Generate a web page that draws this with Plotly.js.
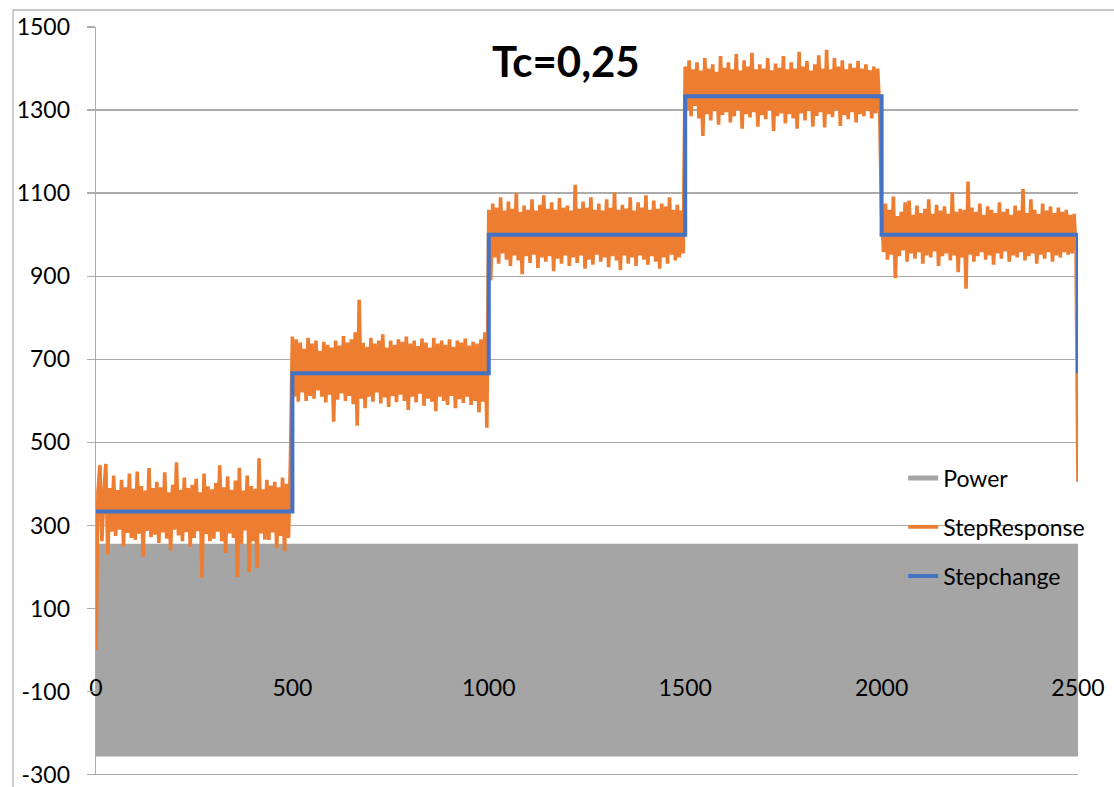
<!DOCTYPE html>
<html>
<head>
<meta charset="utf-8">
<script src="https://cdn.plot.ly/plotly-3.0.1.min.js"></script>
<style>
  html, body { margin: 0; padding: 0; background: #ffffff; }
  #chart { width: 1114px; height: 787px; }
</style>
</head>
<body>
<div id="chart"></div>
<script>
// ---------------- DATA ----------------
const chartTitle = 'Tc=0,25';
const seriesNames = ['Power', 'StepResponse', 'Stepchange'];
const sampleInterval = 5;           // time between stored samples
const xRange = [0, 2500];
const yRange = [-300, 1500];
const xTickVals = [0, 500, 1000, 1500, 2000, 2500];
const yTickVals = [-300, -100, 100, 300, 500, 700, 900, 1100, 1300, 1500];
const yTickLabels = ['-300', '-100', '100', '300', '500', '700', '900', '1100', '1300', '1500'];

// Stepchange (setpoint) : level held from each change time
const stepTimes  = [0, 500, 1000, 1500, 2000, 2500];
const stepLevels = [333.3, 666.7, 1000, 1333.3, 1000, 666.7];

// StepResponse, one sample every 5 time units (0 ... 2500)
const responseSeg1 = [
  0, 380, 445, 262, 375, 448, 230, 390, 285, 420,
  275, 385, 290, 410, 250, 392, 282, 425, 270, 388,
  265, 430, 280, 395, 225, 384, 287, 438, 272, 390,
  278, 405, 258, 392, 283, 428, 268, 380, 240, 398,
  290, 452, 276, 386, 262, 415, 284, 390, 248, 398,
  270, 412, 286, 380, 174, 425, 279, 394, 262, 387,
  268, 402, 285, 445, 262, 392, 234, 418, 281, 386,
  270, 408, 176, 439, 255, 384, 288, 420, 188, 395,
  262, 388, 198, 462, 281, 387, 266, 410, 265, 396,
  283, 405, 245, 392, 275, 415, 238, 400, 270, 455
];
const responseSeg2 = [
  755, 610, 748, 598, 740, 620, 725, 600, 752, 612,
  738, 605, 745, 625, 720, 610, 742, 596, 735, 615,
  728, 550, 745, 603, 733, 618, 756, 600, 740, 612,
  748, 592, 765, 540, 843, 605, 740, 582, 730, 610,
  752, 598, 738, 620, 745, 594, 760, 608, 728, 585,
  745, 612, 735, 597, 748, 615, 742, 600, 755, 578,
  738, 610, 745, 596, 732, 617, 750, 588, 740, 605,
  728, 598, 752, 575, 738, 610, 745, 600, 735, 590,
  748, 612, 730, 582, 745, 604, 740, 595, 750, 610,
  733, 590, 742, 600, 738, 572, 748, 598, 765, 535
];
const responseSeg3 = [
  1060, 890, 1075, 945, 1065, 930, 1090, 955, 1058, 940,
  1080, 925, 1062, 950, 1100, 938, 1055, 905, 1070, 948,
  1060, 932, 1085, 952, 1058, 920, 1072, 945, 1095, 935,
  1062, 948, 1078, 912, 1060, 942, 1088, 930, 1065, 950,
  1070, 925, 1058, 945, 1120, 932, 1062, 950, 1080, 918,
  1065, 940, 1090, 928, 1060, 952, 1075, 935, 1058, 945,
  1085, 922, 1065, 948, 1102, 938, 1060, 915, 1072, 950,
  1063, 930, 1090, 945, 1058, 925, 1078, 950, 1065, 940,
  1095, 928, 1060, 948, 1082, 935, 1062, 918, 1075, 945,
  1068, 930, 1090, 952, 1060, 938, 1072, 945, 1058, 955
];
const responseSeg4 = [
  1405, 1300, 1420, 1285, 1398, 1310, 1415, 1280, 1395, 1238,
  1425, 1290, 1400, 1275, 1410, 1298, 1392, 1265, 1430, 1288,
  1402, 1295, 1415, 1270, 1398, 1285, 1435, 1300, 1395, 1255,
  1420, 1290, 1405, 1282, 1438, 1295, 1398, 1260, 1410, 1288,
  1400, 1278, 1425, 1300, 1396, 1250, 1412, 1285, 1402, 1292,
  1430, 1268, 1398, 1290, 1415, 1280, 1400, 1255, 1440, 1292,
  1405, 1275, 1418, 1298, 1395, 1260, 1410, 1286, 1432, 1295,
  1400, 1258, 1445, 1290, 1398, 1283, 1425, 1300, 1405, 1262,
  1420, 1288, 1398, 1278, 1412, 1295, 1402, 1270, 1418, 1290,
  1400, 1285, 1410, 1298, 1396, 1280, 1405, 1292, 1400, 1300
];
const responseSeg5 = [
  1050, 958, 1075, 940, 1060, 952, 1092, 895, 1045, 948,
  1055, 962, 1078, 935, 1082, 955, 1048, 942, 1070, 958,
  1052, 930, 1062, 950, 1085, 945, 1050, 960, 1072, 925,
  1058, 948, 1068, 955, 1050, 938, 1102, 950, 1055, 910,
  1062, 945, 1060, 870, 1128, 952, 1065, 935, 1055, 948,
  1075, 958, 1048, 940, 1068, 950, 1060, 928, 1052, 955,
  1078, 942, 1055, 960, 1062, 935, 1048, 950, 1070, 945,
  1058, 958, 1110, 938, 1052, 948, 1085, 955, 1060, 930,
  1050, 952, 1075, 942, 1058, 958, 1068, 935, 1052, 950,
  1065, 945, 1055, 958, 1060, 952, 1048, 955, 1050, 960
];
const responseEnd = [405];

// Power, one sample every 5 time units (0 ... 2500)
const powerValues = [
  256,-256,256,-256,256,-256,256,-256,256,-256,256,-256,256,-256,256,-256,256,-256,256,-256,
  256,-256,256,-256,256,-256,256,-256,256,-256,256,-256,256,-256,256,-256,256,-256,256,-256,
  256,-256,256,-256,256,-256,256,-256,256,-256,256,-256,256,-256,256,-256,256,-256,256,-256,
  256,-256,256,-256,256,-256,256,-256,256,-256,256,-256,256,-256,256,-256,256,-256,256,-256,
  256,-256,256,-256,256,-256,256,-256,256,-256,256,-256,256,-256,256,-256,256,-256,256,-256,
  256,-256,256,-256,256,-256,256,-256,256,-256,256,-256,256,-256,256,-256,256,-256,256,-256,
  256,-256,256,-256,256,-256,256,-256,256,-256,256,-256,256,-256,256,-256,256,-256,256,-256,
  256,-256,256,-256,256,-256,256,-256,256,-256,256,-256,256,-256,256,-256,256,-256,256,-256,
  256,-256,256,-256,256,-256,256,-256,256,-256,256,-256,256,-256,256,-256,256,-256,256,-256,
  256,-256,256,-256,256,-256,256,-256,256,-256,256,-256,256,-256,256,-256,256,-256,256,-256,
  256,-256,256,-256,256,-256,256,-256,256,-256,256,-256,256,-256,256,-256,256,-256,256,-256,
  256,-256,256,-256,256,-256,256,-256,256,-256,256,-256,256,-256,256,-256,256,-256,256,-256,
  256,-256,256,-256,256,-256,256,-256,256,-256,256,-256,256,-256,256,-256,256,-256,256,-256,
  256,-256,256,-256,256,-256,256,-256,256,-256,256,-256,256,-256,256,-256,256,-256,256,-256,
  256,-256,256,-256,256,-256,256,-256,256,-256,256,-256,256,-256,256,-256,256,-256,256,-256,
  256,-256,256,-256,256,-256,256,-256,256,-256,256,-256,256,-256,256,-256,256,-256,256,-256,
  256,-256,256,-256,256,-256,256,-256,256,-256,256,-256,256,-256,256,-256,256,-256,256,-256,
  256,-256,256,-256,256,-256,256,-256,256,-256,256,-256,256,-256,256,-256,256,-256,256,-256,
  256,-256,256,-256,256,-256,256,-256,256,-256,256,-256,256,-256,256,-256,256,-256,256,-256,
  256,-256,256,-256,256,-256,256,-256,256,-256,256,-256,256,-256,256,-256,256,-256,256,-256,
  256,-256,256,-256,256,-256,256,-256,256,-256,256,-256,256,-256,256,-256,256,-256,256,-256,
  256,-256,256,-256,256,-256,256,-256,256,-256,256,-256,256,-256,256,-256,256,-256,256,-256,
  256,-256,256,-256,256,-256,256,-256,256,-256,256,-256,256,-256,256,-256,256,-256,256,-256,
  256,-256,256,-256,256,-256,256,-256,256,-256,256,-256,256,-256,256,-256,256,-256,256,-256,
  256,-256,256,-256,256,-256,256,-256,256,-256,256,-256,256,-256,256,-256,256,-256,256,-256,
  256
];

// ---------------- CHART ----------------
const responseValues = [].concat(responseSeg1, responseSeg2, responseSeg3, responseSeg4, responseSeg5, responseEnd);

const FONT = 'Lato, "Open Sans", "DejaVu Sans", sans-serif';
const GRID = '#ababab';
const COLORS = { power: '#A5A5A5', response: '#ED7D31', step: '#4472C4' };

const traces = [
  {
    name: seriesNames[0], type: 'scatter', mode: 'lines',
    x0: xRange[0], dx: sampleInterval, y: powerValues,
    line: { color: COLORS.power, width: 5, simplify: false },
    legend: 'legend', hoverinfo: 'skip'
  },
  {
    name: seriesNames[1], type: 'scatter', mode: 'lines',
    x0: xRange[0], dx: sampleInterval, y: responseValues,
    line: { color: COLORS.response, width: 3.6, simplify: false },
    legend: 'legend2'
  },
  {
    name: seriesNames[2], type: 'scatter', mode: 'lines',
    x: stepTimes, y: stepLevels,
    line: { color: COLORS.step, width: 4, shape: 'hv' },
    legend: 'legend3'
  }
];

const zeroPos = (0 - yRange[0]) / (yRange[1] - yRange[0]);
const legendBase = {
  xanchor: 'left', yanchor: 'middle', x: 0.822,
  bgcolor: 'rgba(0,0,0,0)', borderwidth: 0,
  font: { family: FONT, size: 23, color: '#000' }
};

const layout = {
  width: 1114, height: 787,
  margin: { l: 96, r: 36, t: 27, b: 12, pad: 0 },
  paper_bgcolor: '#ffffff', plot_bgcolor: '#ffffff',
  showlegend: true,
  title: {
    text: '<b>' + chartTitle + '</b>',
    font: { family: FONT, size: 42, color: '#000' },
    xref: 'container', x: 0.508, xanchor: 'center',
    yref: 'container', y: 0.921, yanchor: 'middle'
  },
  xaxis: {
    range: xRange, tickvals: xTickVals,
    anchor: 'free', position: zeroPos,
    showgrid: false, zeroline: false, showline: false,
    ticks: '', ticklabelstandoff: 22,
    tickfont: { family: FONT, size: 23, color: '#000' },
    fixedrange: true
  },
  yaxis: {
    range: [yRange[0] - 0.8, yRange[1]], tickvals: yTickVals, ticktext: yTickLabels,
    showgrid: true, gridcolor: GRID, gridwidth: 1.4,
    zeroline: false,
    showline: true, linecolor: GRID, linewidth: 1.4,
    ticks: 'outside', ticklen: 8, tickcolor: GRID, tickwidth: 1.4,
    ticklabelstandoff: 12, ticklabeloverflow: 'allow',
    tickfont: { family: FONT, size: 23, color: '#000' },
    fixedrange: true
  },
  legend:  Object.assign({}, legendBase, { y: 0.397 }),
  legend2: Object.assign({}, legendBase, { y: 0.3316 }),
  legend3: Object.assign({}, legendBase, { y: 0.266 }),
  shapes: [
    { type: 'rect', xref: 'paper', yref: 'paper',
      x0: -0.0845, x1: 1.06, y0: -0.05, y1: 1.0227,
      line: { color: '#b5b5b5', width: 1.3 }, fillcolor: 'rgba(0,0,0,0)', layer: 'below' },
    // bottom gridline at the lowest y tick
    { type: 'line', xref: 'paper', yref: 'y',
      x0: 0, x1: 1, y0: yTickVals[0], y1: yTickVals[0],
      line: { color: GRID, width: 1.4 }, layer: 'below' }
  ]
};

Plotly.newPlot('chart', traces, layout, { displayModeBar: false, staticPlot: true });
</script>
</body>
</html>
